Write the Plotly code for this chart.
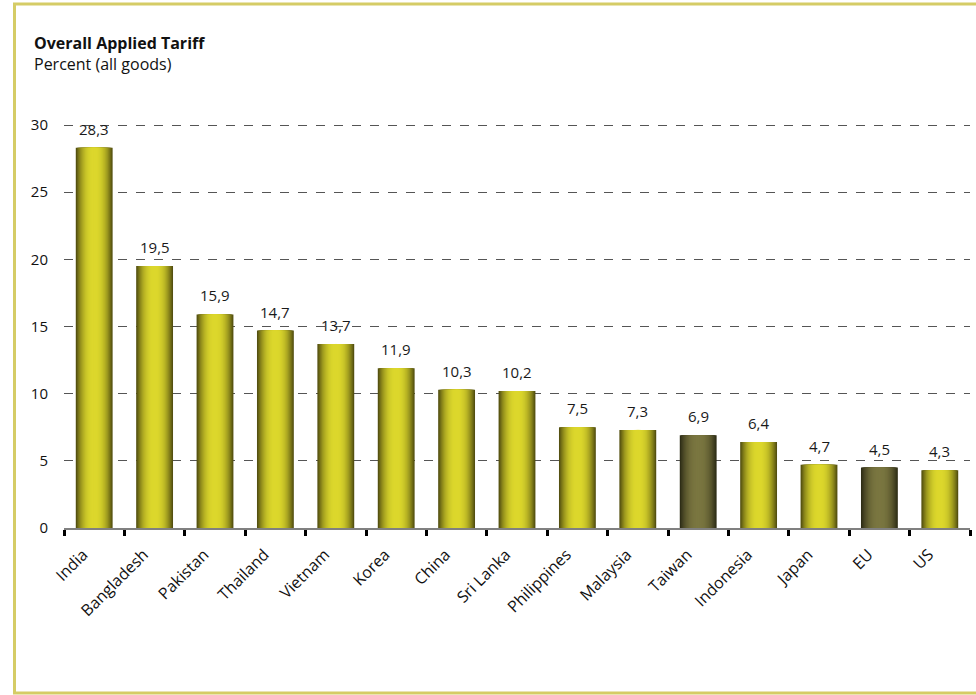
import plotly.graph_objects as go

countries = ["India", "Bangladesh", "Pakistan", "Thailand", "Vietnam", "Korea", "China",
             "Sri Lanka", "Philippines", "Malaysia", "Taiwan", "Indonesia", "Japan", "EU", "US"]
tariff = [28.3, 19.5, 15.9, 14.7, 13.7, 11.9, 10.3, 10.2, 7.5, 7.3, 6.9, 6.4, 4.7, 4.5, 4.3]
highlight = [False] * 10 + [True, False, False, True, False]
y_ticks = [0, 5, 10, 15, 20, 25, 30]

W, H = 976, 695
L, R, T, B = 64, 6, 119, 167
pw, ph = W - L - R, H - T - B
y_top = 30 * ph / (528 - 125)

FONT = "Open Sans"


def hex2rgb(h):
    h = h.lstrip("#")
    return [int(h[i:i + 2], 16) for i in (0, 2, 4)]


def mix(a, b, t):
    ca, cb = hex2rgb(a), hex2rgb(b)
    return "rgb(%d,%d,%d)" % tuple(round(ca[i] + (cb[i] - ca[i]) * t) for i in range(3))


bright_edge, bright_center = "#545010", "#dcd72c"
dark_edge, dark_center = "#2e2d16", "#7a7640"

fig = go.Figure()
N = 16
w0 = 0.61
for i in range(N):
    s = i / (N - 1)
    f = 1 - (1 - s) ** 2.3
    width = w0 * (1 - i / N)
    colors = [mix(dark_edge, dark_center, f) if h else mix(bright_edge, bright_center, f)
              for h in highlight]
    fig.add_trace(go.Bar(
        x=countries, y=tariff, width=width,
        marker=dict(color=colors, line=dict(width=0)),
        hoverinfo="skip" if i else None, showlegend=False,
    ))

for c, v in zip(countries, tariff):
    fig.add_annotation(x=c, y=v, text=f"{v:.1f}".replace(".", ","), showarrow=False,
                       yanchor="bottom", yshift=7, xref="x", yref="y",
                       font=dict(family=FONT, size=15, color="#1a1a1a"))


def px(x):
    return (x - L) / pw


def py(y):
    return (H - B - y) / ph


fig.add_annotation(x=px(33), y=py(43), xref="paper", yref="paper", xanchor="left", yanchor="middle",
                   text="<b>Overall Applied Tariff</b>", showarrow=False, borderpad=0,
                   font=dict(family=FONT, size=16, color="#111"))
fig.add_annotation(x=px(33), y=py(64), xref="paper", yref="paper", xanchor="left", yanchor="middle",
                   text="Percent (all goods)", showarrow=False, borderpad=0,
                   font=dict(family=FONT, size=16, color="#111"))

fig.add_shape(type="rect", xref="paper", yref="paper",
              x0=px(14.5), x1=px(1000), y0=py(693), y1=py(4),
              line=dict(color="#d5cc66", width=3), fillcolor="rgba(0,0,0,0)", layer="below")

fig.update_layout(
    width=W, height=H, barmode="overlay",
    margin=dict(l=L, r=R, t=T, b=B, autoexpand=False),
    paper_bgcolor="white", plot_bgcolor="white",
    font=dict(family=FONT, size=15, color="#111"),
    xaxis=dict(type="category", tickangle=-45, showline=True, linecolor="#808080", linewidth=2,
               ticks="outside", tickson="boundaries", ticklen=6, tickwidth=3, tickcolor="#000",
               showgrid=False, tickfont=dict(family=FONT, size=16, color="#111"),
               ticklabelstandoff=9, ticklabelshift=-11, range=[-0.5, len(countries) - 0.5]),
    yaxis=dict(range=[0, y_top], tickvals=y_ticks, showgrid=True, gridcolor="#555", gridwidth=1,
               griddash="dash", zeroline=False, showline=False, ticks="outside", ticklen=12,
               tickcolor="rgba(0,0,0,0)", tickfont=dict(family=FONT, size=15, color="#111")),
)

fig.write_html("out.html")
